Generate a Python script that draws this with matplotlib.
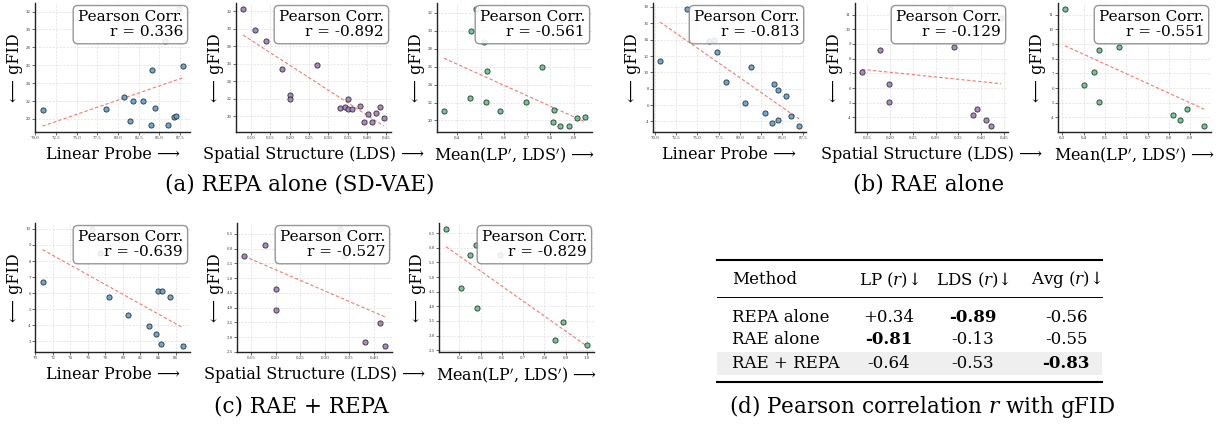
import numpy as np
import matplotlib
matplotlib.use("Agg")
import matplotlib.pyplot as plt
from matplotlib.ticker import MultipleLocator
from matplotlib.patches import Rectangle

plt.rcParams['font.family'] = ['DejaVu Serif', 'DejaVu Sans']
plt.rcParams['mathtext.fontset'] = 'dejavuserif'

# (a) REPA alone (SD-VAE)
repa_lp = [70.88, 78.49, 80.72, 81.47, 81.79, 83.07, 83.94, 84.14, 84.50, 86.05, 86.77, 87.01, 87.85, 87.33, 85.62, 85.00]
repa_lp_fid = [21.01, 21.09, 22.43, 19.81, 22.02, 22.02, 19.33, 25.51, 21.24, 19.36, 20.22, 20.37, 25.88, 32.30, 28.69, 29.85]
repa_lds = [0.079, 0.109, 0.139, 0.180, 0.200, 0.200, 0.271, 0.331, 0.342, 0.352, 0.350, 0.362,
            0.383, 0.402, 0.392, 0.413, 0.423, 0.433, 0.444]
repa_lds_fid = [32.29, 29.85, 28.66, 25.46, 22.44, 21.98, 25.88, 20.95, 21.10, 21.98, 20.80, 20.80,
                21.18, 20.23, 19.35, 19.35, 20.38, 21.07, 19.81]
repa_mean = [0.343, 0.457, 0.453, 0.479, 0.514, 0.527, 0.523, 0.583, 0.694, 0.764, 0.817, 0.811,
             0.843, 0.879, 0.914, 0.949]
repa_mean_fid = [21.04, 29.93, 22.48, 32.44, 28.74, 25.56, 22.04, 21.11, 22.04, 25.93, 21.19, 19.85,
                 19.37, 19.37, 20.30, 20.41]

# (b) RAE alone
rae_lp = [70.55, 73.75, 76.32, 76.92, 77.35, 78.34, 80.59, 81.38, 83.00, 83.87, 84.11, 84.50, 84.58,
          85.53, 86.04, 87.04]
rae_lp_fid = [11.39, 17.76, 13.84, 14.00, 12.45, 8.82, 6.20, 10.69, 5.06, 3.80, 8.61, 4.24, 7.88,
              7.10, 4.61, 3.43]
rae_lds = [0.138, 0.178, 0.198, 0.198, 0.331, 0.341, 0.444, 0.382, 0.392, 0.412, 0.422]
rae_lds_fid = [7.09, 8.61, 6.25, 5.07, 11.39, 8.77, 10.75, 4.14, 4.59, 3.82, 3.41]
rae_mean = [0.313, 0.400, 0.451, 0.474, 0.474, 0.565, 0.820, 0.853, 0.886, 0.964, 0.830]
rae_mean_fid = [11.40, 6.23, 7.10, 8.63, 5.05, 8.79, 4.18, 3.82, 4.59, 3.41, 10.75]

# (c) RAE + REPA
both_lp = [70.83, 76.44, 77.39, 78.37, 80.61, 82.95, 83.79, 83.98, 84.44, 84.36, 85.38, 86.82]
both_lp_fid = [6.68, 10.00, 8.51, 5.77, 4.62, 3.94, 3.46, 6.12, 6.12, 2.83, 5.74, 2.71]
both_lds = [0.136, 0.178, 0.200, 0.200, 0.330, 0.381, 0.411, 0.422, 0.339]
both_lds_fid = [5.74, 6.11, 4.62, 3.93, 6.67, 2.83, 3.46, 2.69, 5.76]
both_mean = [0.337, 0.480, 0.450, 0.408, 0.482, 0.849, 0.887, 1.000, 0.589]
both_mean_fid = [6.65, 6.11, 5.74, 4.62, 3.93, 2.83, 3.46, 2.69, 5.76]

# Pearson r per setting: [LP, LDS, Mean]
methods = ['REPA alone', 'RAE alone', 'RAE + REPA']
pearson_r = [[0.336, -0.892, -0.561],
             [-0.813, -0.129, -0.551],
             [-0.639, -0.527, -0.829]]

xlabels = ['Linear Probe', 'Spatial Structure (LDS)', "Mean(LP$'$, LDS$'$)"]
colors = ['#5a9fd4', '#a27dbd', '#5dc58a']

W, H = 1220, 430
fig = plt.figure(figsize=(W / 100, H / 100), dpi=100)


def add_panel(left_px, top_px, width_px, height_px):
    return fig.add_axes([left_px / W, 1 - (top_px + height_px) / H, width_px / W, height_px / H])


def scatter_panel(ax, x, y, color, xlabel, r, xstep, ystep, xlim=None):
    x = np.asarray(x)
    y = np.asarray(y)
    ax.scatter(x, y, s=14, c=color, edgecolors='#222222', linewidths=0.6, alpha=0.9, zorder=3)
    k, b = np.polyfit(x, y, 1)
    xs = np.array([x.min(), x.max()])
    ax.plot(xs, k * xs + b, ls=(0, (3, 2)), color='#f4796b', lw=0.8, zorder=2)
    if xlim is not None:
        ax.set_xlim(*xlim)
    ax.xaxis.set_major_locator(MultipleLocator(xstep))
    ax.yaxis.set_major_locator(MultipleLocator(ystep))
    ax.grid(True, color='#dddddd', lw=0.5, ls=(0, (3, 2)), zorder=0)
    for s in ['top', 'right']:
        ax.spines[s].set_visible(False)
    for s in ['left', 'bottom']:
        ax.spines[s].set_linewidth(1.0)
        ax.spines[s].set_color('#222222')
    ax.tick_params(labelsize=2.8, length=2, width=0.5, pad=1, colors='#333333')
    ax.set_xlabel(xlabel + ' ⟶', fontsize=11.5, labelpad=4)
    ax.set_ylabel('⟵ gFID', fontsize=11.5, labelpad=2)
    ax.text(0.955, 0.945, 'Pearson Corr.\nr = %.3f' % r, transform=ax.transAxes,
            ha='right', va='top', fontsize=11, linespacing=1.1, zorder=5,
            bbox=dict(boxstyle='round,pad=0.3', fc='white', ec='#888888', lw=1.0, alpha=0.88))


rows = [
    ((repa_lp, repa_lp_fid), (repa_lds, repa_lds_fid), (repa_mean, repa_mean_fid)),
    ((rae_lp, rae_lp_fid), (rae_lds, rae_lds_fid), (rae_mean, rae_mean_fid)),
    ((both_lp, both_lp_fid), (both_lds, both_lds_fid), (both_mean, both_mean_fid)),
]
lefts = [[35, 236, 437], [653, 855, 1058], [35, 237, 439]]
tops = [3, 3, 223]
widths = [155, 153, 155]
xsteps = [[2.5, 0.05, 0.1], [2.5, 0.05, 0.1], [2, 0.05, 0.1]]
ysteps = [[2, 2, 2], [2, 1, 1], [1, 0.5, 0.5]]
xlims = [[(69.97, 88.7), None, None], [None, None, None], [(69.97, 87.65), None, None]]

for i, panels in enumerate(rows):
    for j, (x, y) in enumerate(panels):
        ax = add_panel(lefts[i][j], tops[i], widths[i], 129)
        scatter_panel(ax, x, y, colors[j], xlabels[j], pearson_r[i][j],
                      xsteps[i][j], ysteps[i][j], xlims[i][j])

# sub-captions and the summary table, laid out in pixel coordinates
ov = fig.add_axes([0, 0, 1, 1])
ov.set_xlim(0, W)
ov.set_ylim(H, 0)
ov.axis('off')

cap = dict(fontsize=15.5, ha='center', va='center')
ov.text(300, 185, '(a) REPA alone (SD-VAE)', **cap)
ov.text(929, 185, '(b) RAE alone', **cap)
ov.text(301, 407, '(c) RAE + REPA', **cap)
ov.text(922, 407, '(d) Pearson correlation $r$ with gFID', **cap)

tx0, tx1 = 717, 1102
ov.add_patch(Rectangle((tx0, 352), tx1 - tx0, 23, fc='#efefef', ec='none'))
ov.plot([tx0, tx1], [260, 260], color='black', lw=1.5)
ov.plot([tx0, tx1], [297, 297], color='black', lw=0.7)
ov.plot([tx0, tx1], [382, 382], color='black', lw=1.5)

col_x = [889, 973, 1066]
headers = ['LP ($r$)↓', 'LDS ($r$)↓', 'Avg ($r$)↓']
row_y = [318, 340, 363]
ov.text(732, 280, 'Method', fontsize=12, ha='left', va='center')
for cx, h in zip(col_x, headers):
    ov.text(cx, 280, h, fontsize=12, ha='center', va='center')

r_arr = np.round(np.array(pearson_r), 2)
best = r_arr.argmin(axis=0)
for i, name in enumerate(methods):
    ov.text(732, row_y[i], name, fontsize=12, ha='left', va='center')
    for j in range(3):
        v = r_arr[i, j]
        txt = ('+%.2f' % v) if v > 0 else ('%.2f' % v)
        ov.text(col_x[j], row_y[i], txt, fontsize=12, ha='center', va='center',
                fontweight='bold' if best[j] == i else 'normal')

fig.savefig('out.png', dpi=100)
